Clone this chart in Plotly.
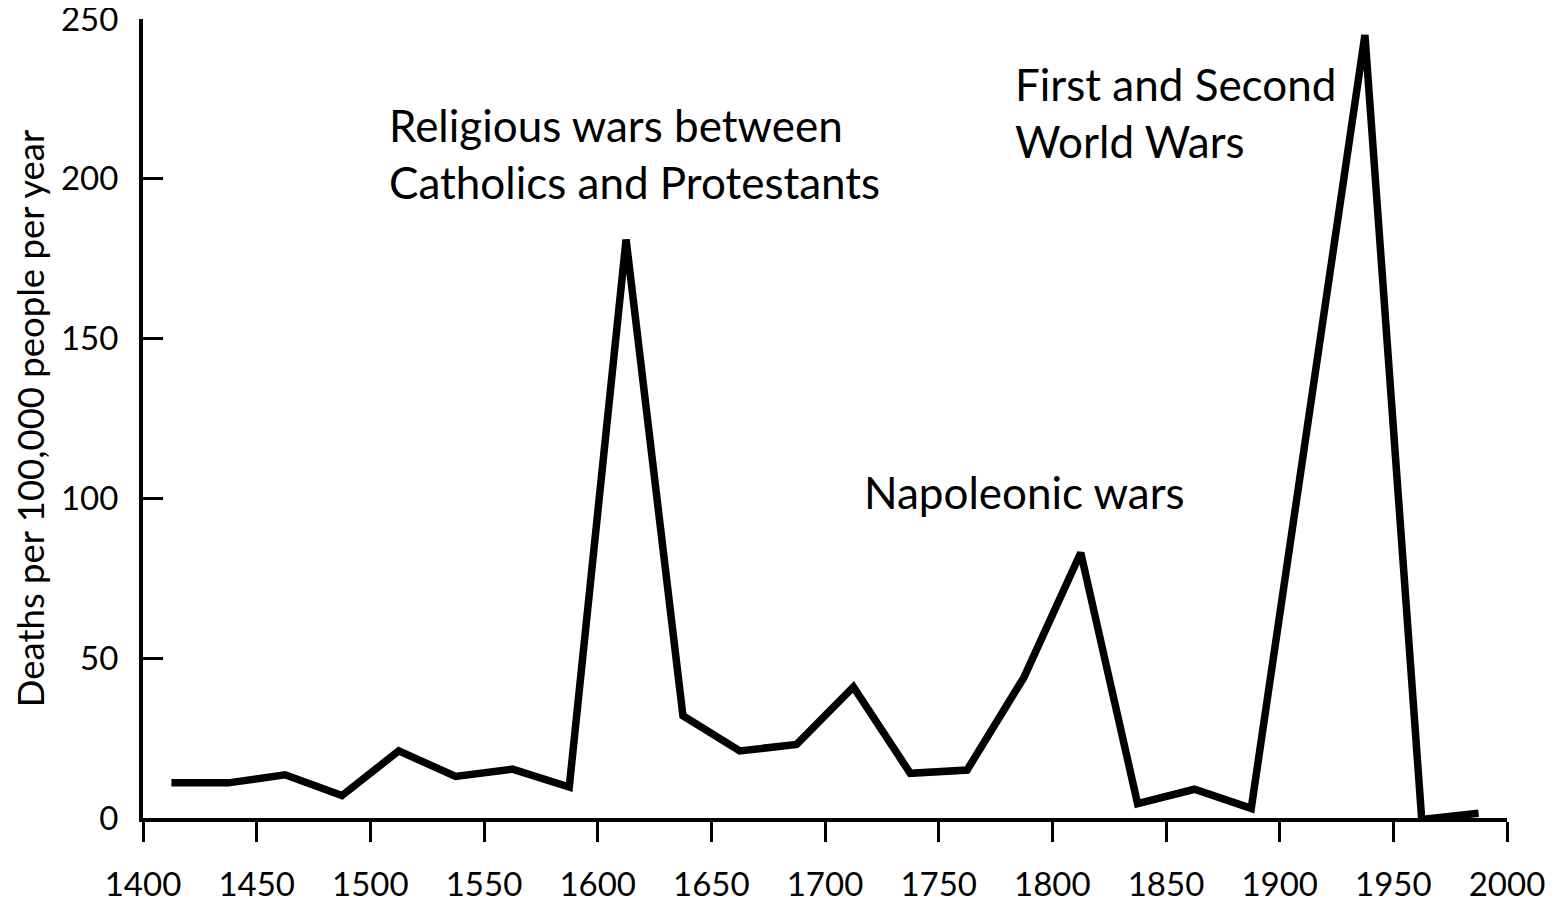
import plotly.graph_objects as go

years = [1412.5, 1437.5, 1462.5, 1487.5, 1512.5, 1537.5, 1562.5, 1587.5,
         1612.5, 1637.5, 1662.5, 1687.5, 1712.5, 1737.5, 1762.5, 1787.5,
         1812.5, 1837.5, 1862.5, 1887.5, 1937.5, 1962.5, 1987.5]
deaths = [11, 11, 13.5, 7, 21, 13, 15.3, 9.7,
          181, 32, 21, 23, 41, 14, 15, 44,
          83, 4.5, 9, 3, 245, -0.5, 1.5]

x_ticks = [1400, 1450, 1500, 1550, 1600, 1650, 1700, 1750, 1800, 1850, 1900, 1950, 2000]
y_ticks = [0, 50, 100, 150, 200, 250]

notes_text = ["Religious wars between<br>Catholics and Protestants",
              "Napoleonic wars",
              "First and Second<br>World Wars"]
notes_x = [1507.5, 1716.3, 1782.6]
notes_y = [208, 102, 220.6]

fig = go.Figure()
fig.add_trace(go.Scatter(x=years, y=deaths, mode="lines",
                         line=dict(color="black", width=7.5),
                         showlegend=False, hoverinfo="skip"))

for t, xv, yv in zip(notes_text, notes_x, notes_y):
    fig.add_annotation(x=xv, y=yv, text=t, showarrow=False,
                       xanchor="left", yanchor="middle", align="left",
                       font=dict(family="Lato", size=44, color="black"))

fig.update_layout(
    width=1559, height=894,
    margin=dict(l=135, r=60, t=11, b=84),
    paper_bgcolor="white", plot_bgcolor="white",
    font=dict(family="Lato", color="black"),
)
fig.update_xaxes(range=[1400, 2000], tickvals=x_ticks, automargin=False,
                 ticks="outside", ticklen=20, tickwidth=3, tickcolor="black",
                 showline=True, linewidth=4, linecolor="black",
                 showgrid=False, zeroline=False, ticklabeloverflow="allow",
                 tickfont=dict(family="Lato", size=33, color="black"),
                 ticklabelstandoff=14)
fig.update_yaxes(range=[0, 250], tickvals=y_ticks, automargin=False,
                 ticks="inside", ticklen=20, tickwidth=3, tickcolor="black",
                 showline=True, linewidth=4, linecolor="black",
                 showgrid=False, zeroline=False, ticklabeloverflow="allow",
                 tickfont=dict(family="Lato", size=33, color="black"),
                 ticklabelstandoff=14,
                 title=dict(text="Deaths per 100,000 people per year",
                            font=dict(family="Lato", size=36.5, color="black"),
                            standoff=8))

fig.write_html("out.html")
